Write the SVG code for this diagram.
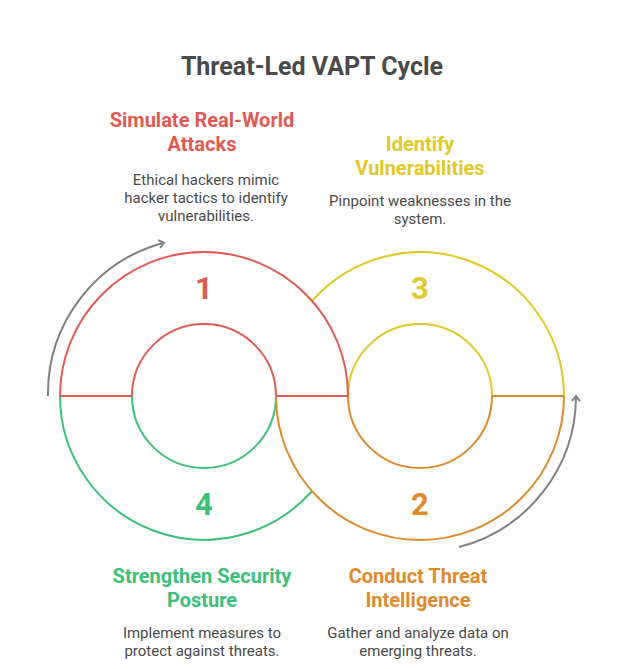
<svg xmlns="http://www.w3.org/2000/svg" width="624" height="669" viewBox="0 0 624 669">
<style>
.t{font-family:Roboto,"Liberation Sans",sans-serif;font-weight:700;text-anchor:middle}
.d{font-family:Roboto,"Liberation Sans",sans-serif;font-size:15px;fill:#4a4a4a;text-anchor:middle}
.h{font-size:20px}
.n{font-size:31px}
path{fill:none;stroke-width:2}
.r{stroke:#e05a52}.g{stroke:#3cc07a}.o{stroke:#e08a2e}.y{stroke:#e2c82a}
.a{stroke:#808080;stroke-width:2}
</style>
<defs><marker id="ah" markerWidth="10" markerHeight="10" refX="5" refY="5" orient="auto" markerUnits="userSpaceOnUse"><path d="M1,1 L6,5 L1,9" stroke="#808080" stroke-width="2" fill="none"/></marker></defs>
<rect width="624" height="669" fill="#fff"/>
<text class="t" x="312" y="75" font-size="25" fill="#4a4a4a">Threat-Led VAPT Cycle</text>
<g id="connectors">
<path class="a" d="M48,396 A156,156 0 0 1 163,243" marker-end="url(#ah)"/>
<path class="a" d="M459,547 A156,156 0 0 0 576,397" marker-end="url(#ah)"/>
</g>
<g id="node4">
<path class="g" d="M60,396 A144,144 0 0 0 312,491"/>
<path class="g" d="M132,396 A72,72 0 0 0 276,396"/>
<text class="t n" x="204" y="515" fill="#3cc07a">4</text>
<text class="t h" x="202" y="583" fill="#3cc07a">Strengthen Security</text>
<text class="t h" x="202" y="607" fill="#3cc07a">Posture</text>
<text class="d" x="202" y="638">Implement measures to</text>
<text class="d" x="202" y="656">protect against threats.</text>
</g>
<g id="node3">
<path class="y" d="M312,301 A144,144 0 0 1 564,396"/>
<path class="y" d="M348,396 A72,72 0 0 1 492,396"/>
<text class="t n" x="420" y="299" fill="#e2c82a">3</text>
<text class="t h" x="420" y="151" fill="#e2c82a">Identify</text>
<text class="t h" x="420" y="175" fill="#e2c82a">Vulnerabilities</text>
<text class="d" x="420" y="206">Pinpoint weaknesses in the</text>
<text class="d" x="420" y="224">system.</text>
</g>
<g id="node2">
<path class="o" d="M276,396 A144,144 0 0 0 564,396"/>
<path class="o" d="M348,396 A72,72 0 0 0 492,396"/>
<path class="o" d="M492,396 H564"/>
<text class="t n" x="420" y="515" fill="#e08a2e">2</text>
<text class="t h" x="418" y="583" fill="#e08a2e">Conduct Threat</text>
<text class="t h" x="418" y="607" fill="#e08a2e">Intelligence</text>
<text class="d" x="418" y="638">Gather and analyze data on</text>
<text class="d" x="418" y="656">emerging threats.</text>
</g>
<g id="node1">
<path class="r" d="M60,396 A144,144 0 0 1 348,396"/>
<path class="r" d="M132,396 A72,72 0 0 1 276,396"/>
<path class="r" d="M60,396 H132 M276,396 H348"/>
<text class="t n" x="204" y="299" fill="#e05a52">1</text>
<text class="t h" x="202" y="127" fill="#e05a52">Simulate Real-World</text>
<text class="t h" x="202" y="151" fill="#e05a52">Attacks</text>
<text class="d" x="206" y="185">Ethical hackers mimic</text>
<text class="d" x="206" y="203">hacker tactics to identify</text>
<text class="d" x="206" y="221">vulnerabilities.</text>
</g>
</svg>
